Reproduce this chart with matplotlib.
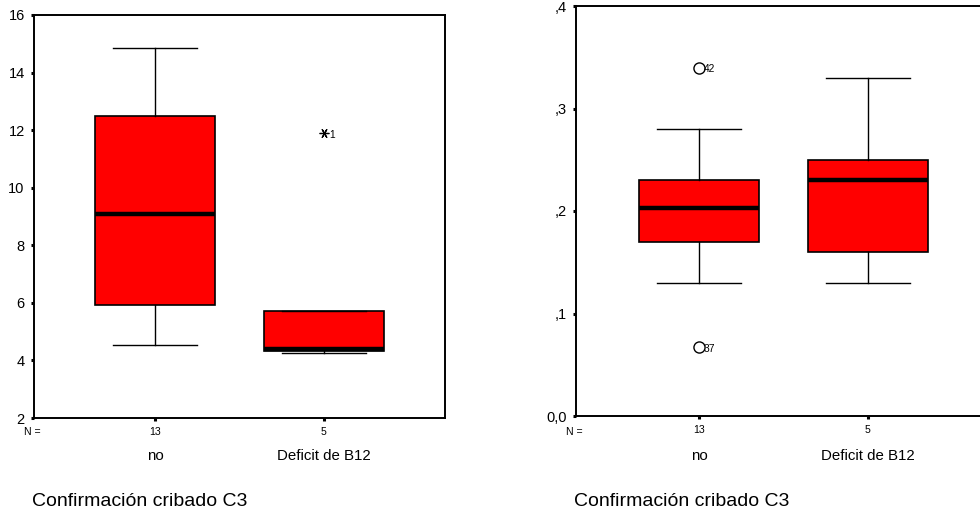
import matplotlib
matplotlib.use("Agg")
import matplotlib.pyplot as plt
from matplotlib.transforms import blended_transform_factory

plt.rcParams["font.family"] = ["Liberation Sans", "DejaVu Sans"]

# Groups and sample sizes
categories = ["no", "Deficit de B12"]
n_counts = [13, 5]
group_title = "Confirmación cribado C3"

# Left panel: five-number summaries per group
left_whislo = [4.54, 4.25]
left_q1 = [5.92, 4.33]
left_med = [9.08, 4.38]
left_q3 = [12.48, 5.71]
left_whishi = [14.87, 5.71]
left_out_vals = [[], [11.9]]
left_out_ids = [[], ["1"]]
left_ticks = [2, 4, 6, 8, 10, 12, 14, 16]
left_ticklabels = ["2", "4", "6", "8", "10", "12", "14", "16"]

# Right panel
right_whislo = [0.13, 0.13]
right_q1 = [0.17, 0.16]
right_med = [0.203, 0.23]
right_q3 = [0.23, 0.25]
right_whishi = [0.28, 0.33]
right_out_vals = [[0.34, 0.067], []]
right_out_ids = [["42", "37"], []]
right_ticks = [0.0, 0.1, 0.2, 0.3, 0.4]
right_ticklabels = ["0,0", ",1", ",2", ",3", ",4"]

W, H = 980, 513
fig = plt.figure(figsize=(W / 100, H / 100), dpi=100)
fig.patch.set_facecolor("white")

RED = "#ff0000"
positions = [1, 2]


def draw_panel(ax, whislo, q1, med, q3, whishi, out_vals, out_ids,
               ticks, ticklabels, ylim, xlim, flier_marker, flier_size,
               flier_mew, title_x):
    stats = []
    for i in range(len(categories)):
        stats.append(dict(whislo=whislo[i], q1=q1[i], med=med[i], q3=q3[i],
                          whishi=whishi[i], fliers=out_vals[i], label=categories[i]))
    ax.bxp(stats, positions=positions, widths=0.71, capwidths=0.5,
           patch_artist=True, showfliers=True,
           boxprops=dict(facecolor=RED, edgecolor="black", linewidth=1.2),
           medianprops=dict(color="black", linewidth=3.2, solid_capstyle="butt"),
           whiskerprops=dict(color="black", linewidth=1.0),
           capprops=dict(color="black", linewidth=1.0),
           flierprops=dict(marker=flier_marker, markersize=flier_size,
                           markerfacecolor="none", markeredgecolor="black",
                           markeredgewidth=flier_mew, linestyle="none"))
    # case labels beside the outlying points
    for i, (vals, ids) in enumerate(zip(out_vals, out_ids)):
        for v, lab in zip(vals, ids):
            ax.annotate(lab, xy=(positions[i], v), xytext=(3.6, -1.2),
                        textcoords="offset points", ha="left", va="center",
                        fontsize=7.4, color="black")
    ax.set_xlim(*xlim)
    ax.set_ylim(*ylim)
    ax.set_yticks(ticks)
    ax.set_yticklabels(ticklabels, fontsize=10.5)
    ax.set_xticks(positions)
    ax.set_xticklabels([str(n) for n in n_counts], fontsize=7.6)
    ax.tick_params(axis="y", direction="out", length=2.2, width=2.2, pad=4.5,
                   color="black")
    ax.tick_params(axis="x", direction="out", length=2.2, width=2.2, pad=4.5,
                   color="black")
    for s in ax.spines.values():
        s.set_linewidth(1.4)
        s.set_color("black")
    # N label and group names under the counts (x in data, y in figure)
    tr = blended_transform_factory(ax.transData, fig.transFigure)
    ax.text(xlim[0] - 0.012, 1 - 432 / H, "N =", transform=tr,
            ha="center", va="center", fontsize=7.6)
    for p, c in zip(positions, categories):
        ax.text(p, 1 - 456 / H, c, transform=tr,
                ha="center", va="center", fontsize=10.8)
    fig.text(title_x / W, 1 - 501 / H, group_title, ha="left", va="center",
             fontsize=14)


# Left axes: 34..445 px wide, 15..418 px tall
axL = fig.add_axes([34 / W, 1 - 418 / H, 411 / W, 403 / H])
draw_panel(axL, left_whislo, left_q1, left_med, left_q3, left_whishi,
           left_out_vals, left_out_ids, left_ticks, left_ticklabels,
           ylim=(2, 16), xlim=(0.284, 2.716), flier_marker=(6, 2, 90),
           flier_size=7, flier_mew=0.9, title_x=32)

# Right axes: starts at 576 px and runs past the right edge of the figure
axR = fig.add_axes([576 / W, 1 - 416 / H, 415 / W, 410 / H])
draw_panel(axR, right_whislo, right_q1, right_med, right_q3, right_whishi,
           right_out_vals, right_out_ids, right_ticks, right_ticklabels,
           ylim=(0.0, 0.4), xlim=(0.272, 2.728), flier_marker="o",
           flier_size=8, flier_mew=1.0, title_x=574)

fig.savefig("out.png", dpi=100, facecolor="white")
